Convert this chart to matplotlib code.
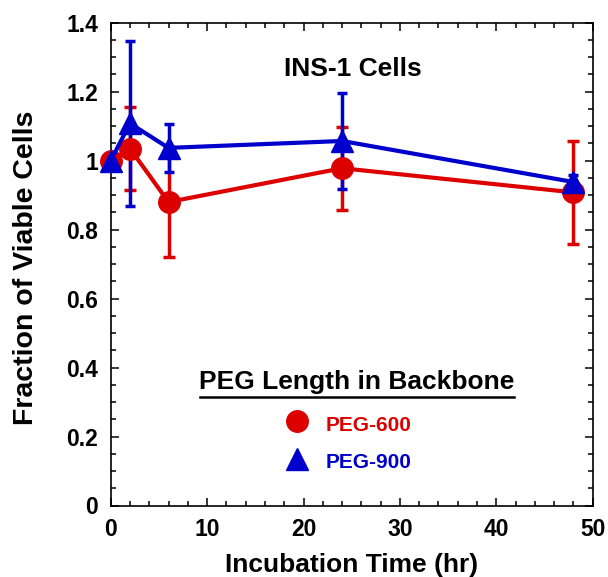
import matplotlib
matplotlib.use("Agg")
import matplotlib.pyplot as plt
from matplotlib.ticker import MultipleLocator, FuncFormatter
from matplotlib.lines import Line2D

plt.rcParams['font.family'] = ['Liberation Sans', 'DejaVu Sans']
plt.rcParams['font.weight'] = 'bold'

time_hr = [0, 2, 6, 24, 48]
peg600 = [1.0, 1.035, 0.88, 0.978, 0.908]
peg600_err = [0.0, 0.12, 0.16, 0.12, 0.15]
peg900 = [1.0, 1.108, 1.037, 1.057, 0.938]
peg900_err = [0.0, 0.24, 0.07, 0.14, 0.02]

red = '#DD0000'
blue = '#0000CC'

fig = plt.figure(figsize=(6.08, 5.77), dpi=100)
ax = fig.add_axes([110.7/608, (577-505.5)/577, 482/608, 482.8/577])

ax.errorbar(time_hr, peg600, yerr=peg600_err, fmt='none', ecolor=red,
            elinewidth=2.5, capsize=4, capthick=2.5, zorder=2)
ax.errorbar(time_hr, peg900, yerr=peg900_err, fmt='none', ecolor=blue,
            elinewidth=2.5, capsize=3.5, capthick=2.5, zorder=3)
ax.plot(time_hr, peg600, color=red, lw=3, marker='o', ms=15.5,
        mec=red, mfc=red, zorder=4, clip_on=False)
ax.plot(time_hr, peg900, color=blue, lw=3, marker='^', ms=15.5,
        mec=blue, mfc=blue, zorder=5, clip_on=False)

ax.set_xlim(0, 50)
ax.set_ylim(0, 1.4)
ax.xaxis.set_major_locator(MultipleLocator(10))
ax.xaxis.set_minor_locator(MultipleLocator(2))
ax.yaxis.set_major_locator(MultipleLocator(0.2))
ax.yaxis.set_minor_locator(MultipleLocator(0.05))
ax.yaxis.set_major_formatter(FuncFormatter(lambda v, p: f"{v:.1f}".rstrip('0').rstrip('.') if v != 0 else "0"))
ax.tick_params(which='both', direction='in', top=True, right=True, width=1.1)
ax.tick_params(which='major', length=6, labelsize=16.5, pad=9)
ax.tick_params(which='minor', length=3.5)
for lab in ax.get_xticklabels() + ax.get_yticklabels():
    lab.set_fontweight('bold')
for s in ax.spines.values():
    s.set_linewidth(1.2)

ax.set_xlabel('Incubation Time (hr)', fontsize=19, fontweight='bold')
ax.set_ylabel('Fraction of Viable Cells', fontsize=20.5, fontweight='bold')
ax.xaxis.set_label_coords(0.5, -0.099)
ax.yaxis.set_label_coords(-0.148, 0.493)

ax.text(25.08, 1.246, 'INS-1 Cells', fontsize=19, fontweight='bold',
        ha='center', va='baseline')

# legend
ax.text(25.55, 0.339, 'PEG Length in Backbone', fontsize=19, fontweight='bold',
        ha='center', va='baseline')
ax.add_line(Line2D([9.26, 41.83], [0.316, 0.316], color='black', lw=1.8))
ax.plot([19.3], [0.246], marker='o', ms=15.5, color=red, ls='none')
ax.plot([19.3], [0.136], marker='^', ms=15.5, color=blue, ls='none')
ax.text(22.33, 0.217, 'PEG-600', fontsize=15, fontweight='bold', color=red,
        ha='left', va='baseline')
ax.text(22.33, 0.110, 'PEG-900', fontsize=15, fontweight='bold', color=blue,
        ha='left', va='baseline')

fig.savefig('out.png', dpi=100)
